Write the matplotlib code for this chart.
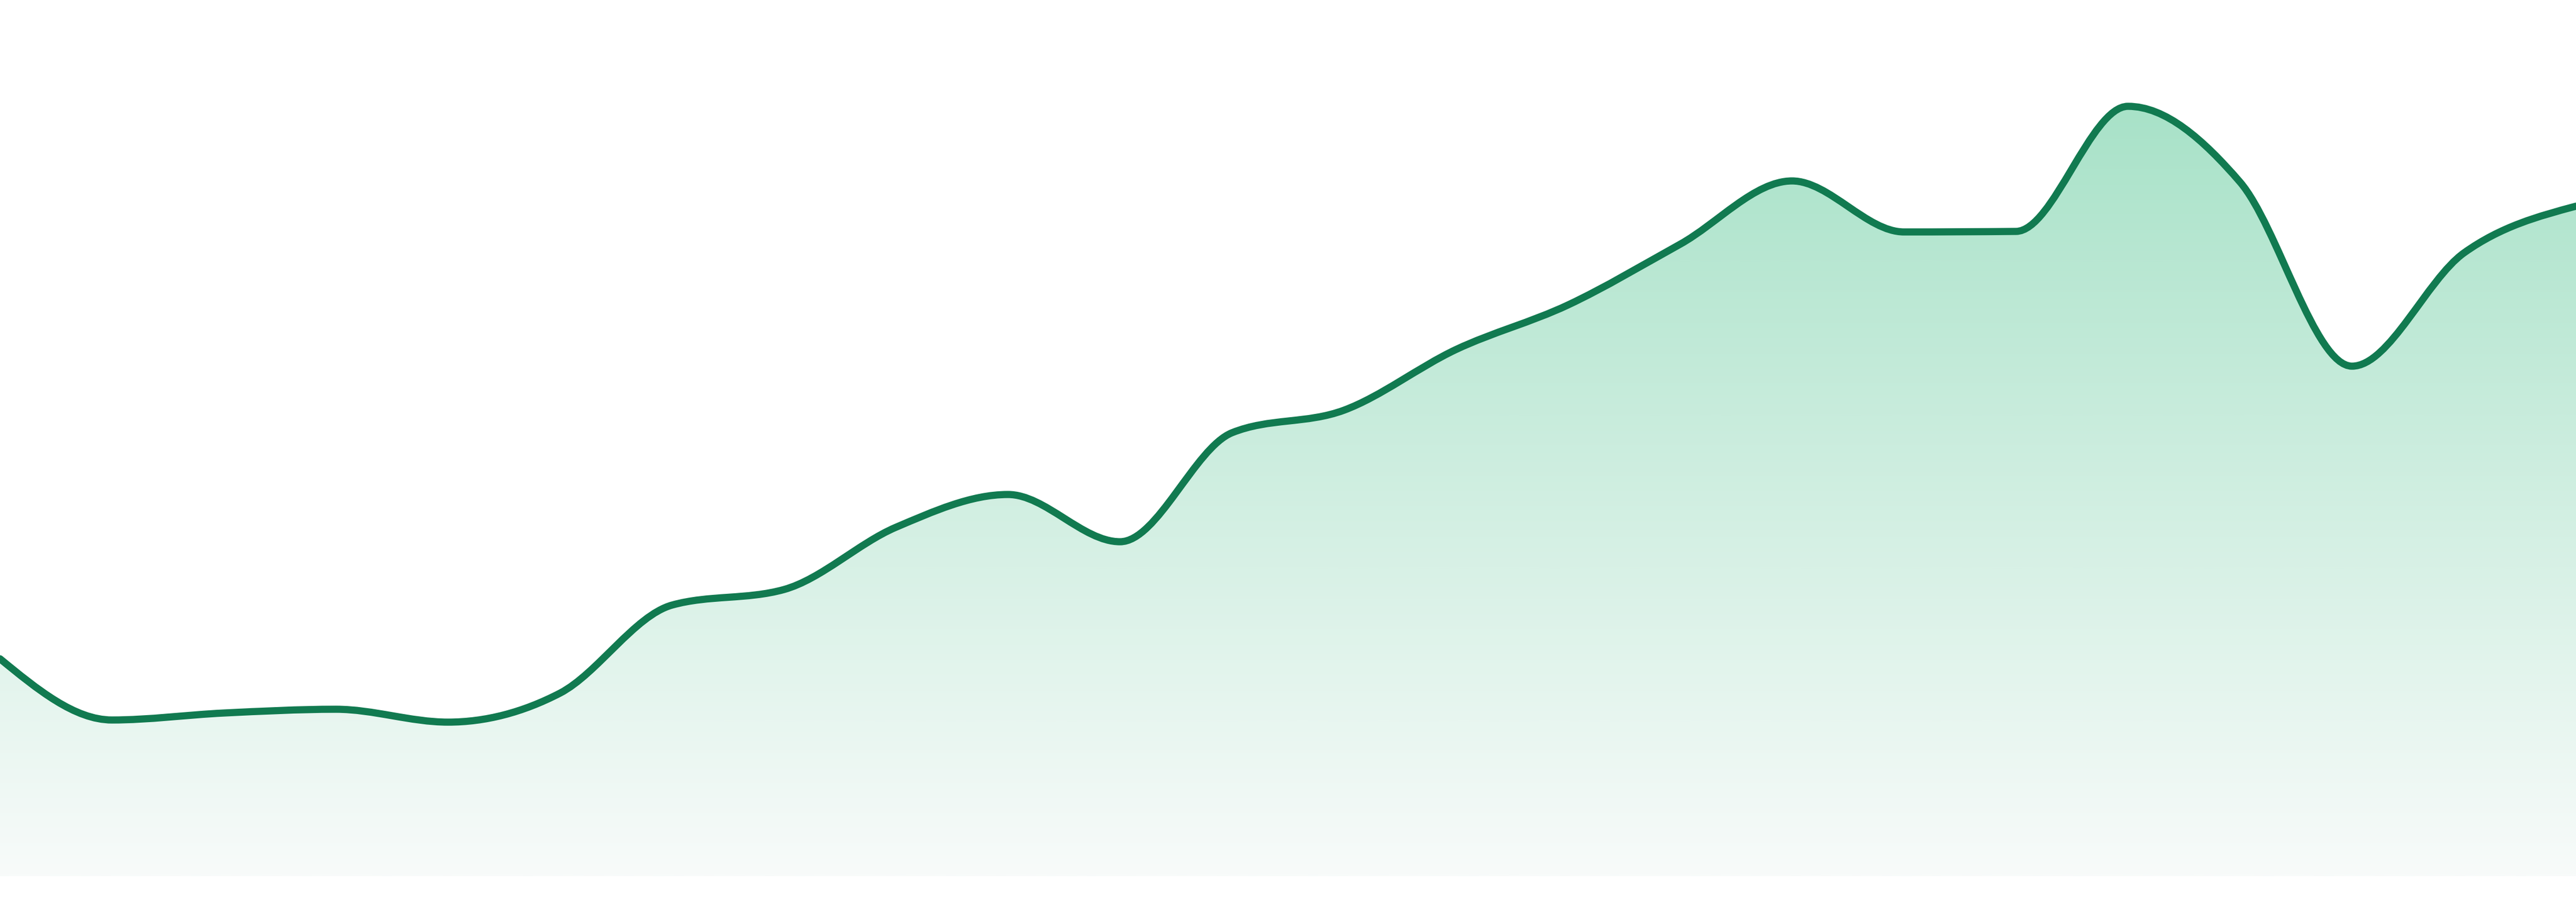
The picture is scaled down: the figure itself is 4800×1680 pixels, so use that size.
import numpy as np
import matplotlib
matplotlib.use("Agg")
import matplotlib.pyplot as plt
from matplotlib.path import Path
from matplotlib.patches import PathPatch
from matplotlib.colors import LinearSegmentedColormap

# ---- data (arbitrary units) ----
periods = list(range(24))
values = [40.5, 29.1, 30.4, 31.1, 28.7, 34.1, 50.5, 53.4, 65.0, 71.1, 62.3, 82.6,
          86.8, 98.1, 106.4, 117.7, 129.5, 120.0, 120.1, 143.4, 129.3, 95.0, 116.1, 124.8]

LINE_COLOR = "#117a50"
TOP_COLOR = "#a8e2c8"
BOTTOM_COLOR = "#f8fbfa"


def monotone_tangents(x, y):
    x = np.asarray(x, float)
    y = np.asarray(y, float)
    n = len(x)
    t = np.zeros(n)
    for i in range(1, n - 1):
        h0 = x[i] - x[i - 1]
        h1 = x[i + 1] - x[i]
        s0 = (y[i] - y[i - 1]) / h0
        s1 = (y[i + 1] - y[i]) / h1
        p = (s0 * h1 + s1 * h0) / (h0 + h1)
        t[i] = (np.sign(s0) + np.sign(s1)) * min(abs(s0), abs(s1), 0.5 * abs(p))
    h = x[1] - x[0]
    t[0] = (3 * (y[1] - y[0]) / h - t[1]) / 2
    h = x[-1] - x[-2]
    t[-1] = (3 * (y[-1] - y[-2]) / h - t[-2]) / 2
    return t


def monotone_path_vertices(x, y):
    t = monotone_tangents(x, y)
    verts = [(x[0], y[0])]
    codes = [Path.MOVETO]
    for i in range(len(x) - 1):
        dx = (x[i + 1] - x[i]) / 3.0
        verts += [(x[i] + dx, y[i] + dx * t[i]),
                  (x[i + 1] - dx, y[i + 1] - dx * t[i + 1]),
                  (x[i + 1], y[i + 1])]
        codes += [Path.CURVE4] * 3
    return verts, codes


fig = plt.figure(figsize=(48, 16.8), dpi=100)
ax = fig.add_axes([0, 0, 1, 1])
ax.set_xlim(periods[0], periods[-1])
ax.set_ylim(-4.8, 163.2)
ax.axis("off")

verts, codes = monotone_path_vertices(periods, values)

# area (closed) path
area_verts = verts + [(periods[-1], 0), (periods[0], 0), (periods[0], values[0])]
area_codes = codes + [Path.LINETO, Path.LINETO, Path.CLOSEPOLY]
area_path = Path(area_verts, area_codes)
area_patch = PathPatch(area_path, facecolor="none", edgecolor="none")
ax.add_patch(area_patch)

cmap = LinearSegmentedColormap.from_list("grad", [BOTTOM_COLOR, TOP_COLOR])
grad = np.linspace(0, 1, 512).reshape(-1, 1)
im = ax.imshow(grad, cmap=cmap, origin="lower", aspect="auto",
               extent=[periods[0], periods[-1], 0, max(values)],
               interpolation="bilinear", zorder=1)
im.set_clip_path(area_patch)

line_patch = PathPatch(Path(verts, codes), facecolor="none", edgecolor=LINE_COLOR,
                       linewidth=9.6, capstyle="round", joinstyle="round", zorder=3)
ax.add_patch(line_patch)

fig.savefig("out.png", dpi=100, facecolor="white")
